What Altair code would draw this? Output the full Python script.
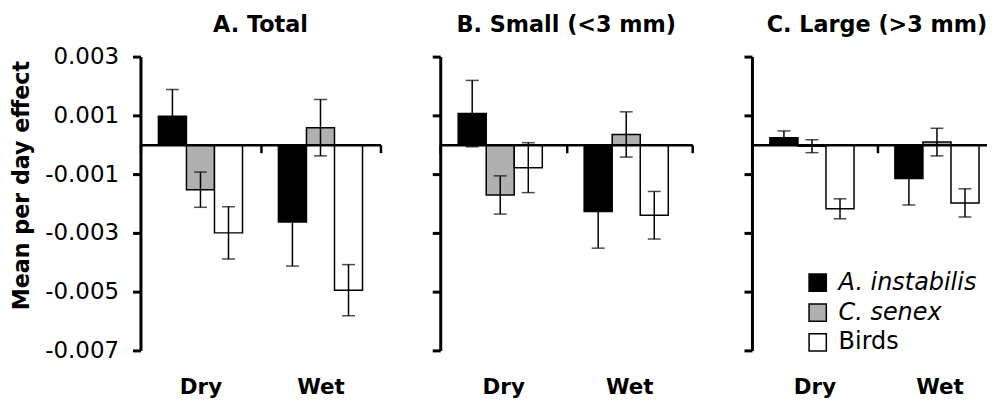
import altair as alt
import pandas as pd

seasons = ["Dry", "Wet"]
groups = ["A. instabilis", "C. senex", "Birds"]
colors = ["#000000", "#b0b0b0", "#ffffff"]

# order: Dry (A. instabilis, C. senex, Birds), Wet (A. instabilis, C. senex, Birds)
total_mean = [0.00097, -0.00153, -0.00300, -0.00263, 0.00058, -0.00495]
total_se = [0.00091, 0.00060, 0.00089, 0.00150, 0.00096, 0.00087]
small_mean = [0.00106, -0.00171, -0.00078, -0.00227, 0.00035, -0.00240]
small_se = [0.00113, 0.00065, 0.00085, 0.00125, 0.00077, 0.00081]
large_mean = [0.00024, -0.00005, -0.00218, -0.00115, 0.00009, -0.00198]
large_se = [0.00023, 0.00022, 0.00034, 0.00090, 0.00047, 0.00048]

y_ticks = [0.003, 0.001, -0.001, -0.003, -0.005, -0.007]
titles = ["A. Total", "B. Small (<3 mm)", "C. Large (>3 mm)"]

FONT = "DejaVu Sans"
H = 295


def make_df(means, ses):
    rows = []
    i = 0
    for s in seasons:
        for g in groups:
            m, e = means[i], ses[i]
            rows.append({"season": s, "group": g, "value": m, "lo": m - e, "hi": m + e})
            i += 1
    return pd.DataFrame(rows)


def panel(df, title, width, first, legend, title_offset):
    x_axis = alt.Axis(
        title=None, labelAngle=0, labelFont=FONT, labelFontSize=21.5,
        labelFontWeight="bold", labelColor="black", labelPadding=225,
        tickBand="extent", tickSize=8, tickWidth=2.5, tickColor="black",
        domainWidth=2.5, domainColor="black", offset=-0.7 * H, zindex=1,
    )
    if first:
        y_axis = alt.Axis(
            values=y_ticks, title="Mean per day effect",
            labelExpr="(datum.value < 0 ? '-' : '') + format(abs(datum.value), '.3f')",
            labelFont=FONT, labelFontSize=23, labelColor="black", labelPadding=14,
            tickSize=8, tickWidth=3, tickColor="black", domainWidth=3, domainColor="black",
            titleFont=FONT, titleFontSize=22.3, titleFontWeight="bold", titleColor="black",
            titleX=-107, titleY=129, titleBaseline="bottom", grid=False,
        )
    else:
        y_axis = alt.Axis(
            values=y_ticks, title=None, labels=False,
            tickSize=8, tickWidth=3, tickColor="black", domainWidth=3, domainColor="black",
            grid=False,
        )
    yscale = alt.Scale(domain=[-0.007, 0.003], nice=False, zero=False)
    x = alt.X("season:N", sort=seasons, scale=alt.Scale(paddingInner=0, paddingOuter=0), axis=x_axis)
    xo = alt.XOffset("group:N", sort=groups, scale=alt.Scale(paddingInner=0, paddingOuter=0.64))

    if legend:
        leg = alt.Legend(
            title=None, orient="none", legendX=54, legendY=215, padding=0,
            symbolType="square", symbolSize=300, symbolStrokeColor="black",
            symbolStrokeWidth=1.5, symbolOpacity=1,
            labelFont=FONT, labelFontSize=24, labelColor="black", labelOffset=9,
            labelFontStyle=alt.ExprRef(expr="datum.label == 'Birds' ? 'normal' : 'italic'"),
            rowPadding=6,
        )
    else:
        leg = None

    base = alt.Chart(df)
    bars = base.mark_bar(stroke="black", strokeWidth=1.5).encode(
        x=x, xOffset=xo,
        y=alt.Y("value:Q", scale=yscale, axis=y_axis),
        fill=alt.Fill("group:N", sort=groups, scale=alt.Scale(domain=groups, range=colors), legend=leg),
    )
    err = base.mark_rule(color="black", strokeWidth=1.5).encode(
        x=x, xOffset=xo,
        y=alt.Y("lo:Q", scale=yscale, axis=y_axis), y2="hi:Q",
    )
    cap_lo = base.mark_tick(color="black", size=13, thickness=1.5, orient="horizontal").encode(
        x=x, xOffset=xo, y=alt.Y("lo:Q", scale=yscale, axis=y_axis),
    )
    cap_hi = base.mark_tick(color="black", size=13, thickness=1.5, orient="horizontal").encode(
        x=x, xOffset=xo, y=alt.Y("hi:Q", scale=yscale, axis=y_axis),
    )
    return alt.layer(bars, err, cap_lo, cap_hi).properties(
        width=width, height=H,
        title=alt.TitleParams(text=title, font=FONT, fontSize=22.4, fontWeight="bold",
                              color="black", offset=title_offset, anchor="middle"),
    )


pA = panel(make_df(total_mean, total_se), titles[0], 241, True, False, 9.5)
pB = panel(make_df(small_mean, small_se), titles[1], 253, False, False, 19)
pC = panel(make_df(large_mean, large_se), titles[2], 251, False, True, 19)

chart = (
    alt.hconcat(pA, pB, pC, spacing=48)
    .resolve_scale(fill="independent")
    .resolve_legend(fill="independent")
    .properties(padding={"left": 3, "top": 5, "right": -17, "bottom": -1}, background="white")
    .configure_view(stroke=None)
)

chart.save("out.html", embed_options={"renderer": "svg", "actions": False})
